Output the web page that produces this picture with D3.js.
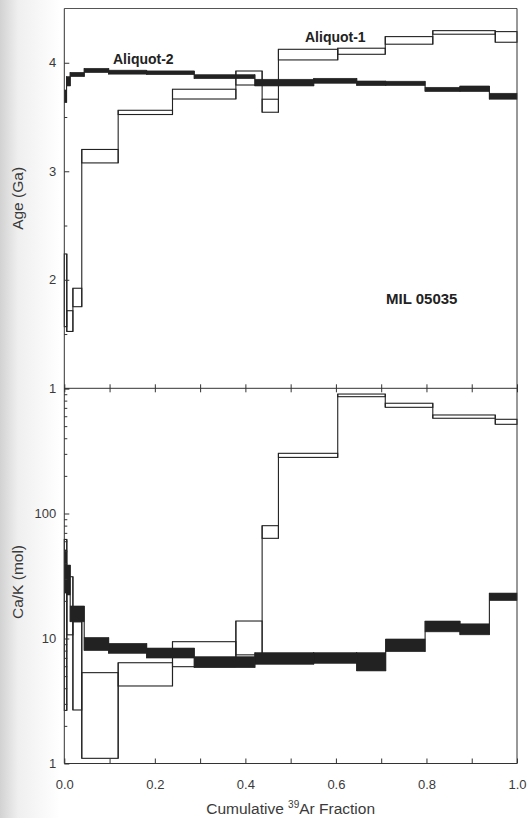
<!DOCTYPE html>
<html>
<head>
<meta charset="utf-8">
<script src="https://cdn.jsdelivr.net/npm/d3@7"></script>
<style>
  html, body { margin: 0; padding: 0; background: #fff; }
  svg { display: block; font-family: Arial, "Liberation Sans", Helvetica, sans-serif; }
</style>
</head>
<body>
<svg id="chart" width="527" height="818"></svg>
<script>
// Step boundaries (cumulative 39Ar fraction) and per-step values, MIL 05035
const a1Bounds = [0, 0.0055, 0.019, 0.0386, 0.119, 0.239, 0.379, 0.437, 0.473, 0.604, 0.709, 0.814, 0.952, 1.0];
const a1AgeLo  = [1.568, 1.524, 1.752, 3.077, 3.523, 3.666, 3.795, 3.544, 4.026, 4.078, 4.171, 4.263, 4.189];
const a1AgeHi  = [2.238, 1.715, 1.922, 3.201, 3.562, 3.756, 3.924, 3.664, 4.124, 4.134, 4.241, 4.296, 4.287];
const a1CaKLo  = [2.66, 10.7, 2.68, 1.10, 4.17, 5.95, 7.4, 63.3, 281, 860, 707, 578, 517];
const a1CaKHi  = [62, 31.2, 13.6, 5.33, 6.40, 9.43, 13.8, 79.9, 303, 903, 762, 614, 567];

const a2Bounds = [0, 0.005, 0.013, 0.044, 0.098, 0.182, 0.287, 0.421, 0.551, 0.646, 0.710, 0.797, 0.874, 0.939, 1.0];
const a2AgeLo  = [3.632, 3.786, 3.872, 3.909, 3.895, 3.890, 3.853, 3.786, 3.811, 3.789, 3.790, 3.734, 3.734, 3.664];
const a2AgeHi  = [3.749, 3.872, 3.912, 3.949, 3.932, 3.925, 3.890, 3.848, 3.857, 3.832, 3.830, 3.774, 3.786, 3.719];
const a2CaKLo  = [23.1, 22.3, 13.6, 8.0, 7.61, 6.98, 5.84, 6.22, 6.33, 5.50, 7.84, 11.3, 10.7, 20.1];
const a2CaKHi  = [51.1, 38.7, 18.2, 10.2, 9.15, 8.39, 7.15, 7.70, 7.70, 7.70, 9.91, 13.8, 13.1, 23.1];

const xTicks = d3.range(0, 11).map(i => i / 10);
const ageMajor = [1, 2, 3, 4];
const ageMinor = [1.5, 2.5, 3.5];
const cakMajor = [1, 10, 100, 1000];

const svg = d3.select("#chart");
const INK = "#222";

// paper shading along the left edge
const defs = svg.append("defs");
const grad = defs.append("linearGradient").attr("id", "edge").attr("x1", 0).attr("x2", 1).attr("y1", 0).attr("y2", 0);
grad.append("stop").attr("offset", "0").attr("stop-color", "#d2d2d2");
grad.append("stop").attr("offset", "0.3").attr("stop-color", "#efefef");
grad.append("stop").attr("offset", "1").attr("stop-color", "#ffffff");
svg.append("rect").attr("width", 527).attr("height", 818).attr("fill", "#fff");
svg.append("rect").attr("width", 60).attr("height", 818).attr("fill", "url(#edge)");

const x = d3.scaleLinear().domain([0, 1]).range([64.3, 517]);
const yAge = d3.scaleLinear().domain([1, 4.5]).range([388.3, 8.5]);
const yCaK = d3.scaleLog().domain([1, 1000]).range([763.5, 388.5]);

// draws one spectrum: boxes plus vertical risers joining neighbouring steps
function spectrum(g, bounds, lo, hi, y, filled) {
  const steps = lo.map((v, i) => ({ x0: bounds[i], x1: bounds[i + 1], lo: v, hi: hi[i] }));
  g.selectAll(null).data(steps).join("rect")
    .attr("x", d => x(d.x0))
    .attr("width", d => Math.max(0.8, x(d.x1) - x(d.x0)))
    .attr("y", d => y(d.hi))
    .attr("height", d => Math.max(0.8, y(d.lo) - y(d.hi)))
    .attr("fill", filled ? INK : "none")
    .attr("stroke", INK)
    .attr("stroke-width", filled ? 0.6 : 1.1);
  const risers = steps.slice(1).map((d, i) => {
    const p = steps[i];
    return { xv: d.x0, a: Math.min(p.lo, d.lo), b: Math.max(p.hi, d.hi) };
  });
  g.selectAll(null).data(risers).join("line")
    .attr("x1", d => x(d.xv)).attr("x2", d => x(d.xv))
    .attr("y1", d => y(d.a)).attr("y2", d => y(d.b))
    .attr("stroke", INK).attr("stroke-width", 1.1);
}

// ---------- upper panel: age spectrum ----------
const agePanel = svg.append("g");
spectrum(agePanel.append("g"), a1Bounds, a1AgeLo, a1AgeHi, yAge, false);
spectrum(agePanel.append("g"), a2Bounds, a2AgeLo, a2AgeHi, yAge, true);

// ---------- lower panel: Ca/K spectrum ----------
const cakPanel = svg.append("g");
spectrum(cakPanel.append("g"), a1Bounds, a1CaKLo, a1CaKHi, yCaK, false);
spectrum(cakPanel.append("g"), a2Bounds, a2CaKLo, a2CaKHi, yCaK, true);

// ---------- frame ----------
const frame = svg.append("g").attr("stroke", "#333").attr("stroke-width", 1).attr("fill", "none");
frame.append("line").attr("x1", x(0)).attr("x2", x(1)).attr("y1", yAge(4.5)).attr("y2", yAge(4.5)).attr("stroke", "#555");
frame.append("line").attr("x1", x(1)).attr("x2", x(1)).attr("y1", yAge(4.5)).attr("y2", yCaK(1));
frame.append("line").attr("x1", x(0)).attr("x2", x(0)).attr("y1", yAge(4.5)).attr("y2", yCaK(1));
frame.append("line").attr("x1", x(0)).attr("x2", x(1)).attr("y1", yAge(1)).attr("y2", yAge(1));

function styleAxis(g) {
  g.select(".domain").remove();
  g.selectAll(".tick line").attr("stroke", "#333");
  g.selectAll(".tick text").attr("fill", "#3a3a3a").attr("font-size", 13);
}

// shared middle axis: ticks crossing the line, no labels
svg.append("g").attr("transform", `translate(0,${yAge(1) - 4})`)
  .call(d3.axisBottom(x).tickValues(xTicks).tickSize(8).tickFormat(""))
  .call(styleAxis);

// bottom x axis
svg.append("g").attr("transform", `translate(0,${yCaK(1)})`)
  .call(d3.axisBottom(x).tickValues(xTicks).tickSize(-5).tickPadding(16)
    .tickFormat((d, i) => i % 2 === 0 ? d3.format(".1f")(d) : ""))
  .call(styleAxis);
svg.append("line").attr("x1", x(0)).attr("x2", x(1)).attr("y1", yCaK(1)).attr("y2", yCaK(1))
  .attr("stroke", "#333");

// age axis
svg.append("g").attr("transform", `translate(${x(0)},0)`)
  .call(d3.axisLeft(yAge).tickValues(ageMajor).tickSize(-5).tickPadding(8).tickFormat(d3.format("d")))
  .call(styleAxis);
svg.append("g").attr("transform", `translate(${x(0)},0)`)
  .call(d3.axisLeft(yAge).tickValues(ageMinor).tickSize(-3).tickFormat(""))
  .call(styleAxis);

// Ca/K axis (top label is shared with the age axis)
svg.append("g").attr("transform", `translate(${x(0)},0)`)
  .call(d3.axisLeft(yCaK).tickValues(cakMajor).tickSize(-5).tickPadding(8)
    .tickFormat(d => d === 1000 ? "" : d3.format("d")(d)))
  .call(styleAxis);
const cakMinor = [];
[1, 10, 100].forEach(dec => d3.range(2, 10).forEach(m => cakMinor.push(dec * m)));
svg.append("g").attr("transform", `translate(${x(0)},0)`)
  .call(d3.axisLeft(yCaK).tickValues(cakMinor).tickSize(-3).tickFormat(""))
  .call(styleAxis);

// axis titles
svg.append("text").attr("transform", `translate(23,${(yAge(1) + yAge(4.5)) / 2}) rotate(-90)`)
  .attr("text-anchor", "middle").attr("font-size", 15.5).attr("fill", "#3a3a3a").text("Age (Ga)");
svg.append("text").attr("transform", `translate(23,${(yCaK(1) + yCaK(1000)) / 2 + 6}) rotate(-90)`)
  .attr("text-anchor", "middle").attr("font-size", 15.5).attr("fill", "#3a3a3a").text("Ca/K (mol)");

const xt = svg.append("text").attr("x", (x(0) + x(1)) / 2).attr("y", 814)
  .attr("text-anchor", "middle").attr("font-size", 15.5).attr("fill", "#3a3a3a");
xt.append("tspan").text("Cumulative ");
xt.append("tspan").attr("font-size", 10).attr("dy", -6).text("39");
xt.append("tspan").attr("dy", 6).text("Ar Fraction");

// series and sample labels
svg.append("text").attr("x", 113).attr("y", 64).attr("font-size", 14).attr("font-weight", "bold")
  .attr("fill", "#222").text("Aliquot-2");
svg.append("text").attr("x", 305).attr("y", 42).attr("font-size", 14).attr("font-weight", "bold")
  .attr("fill", "#222").text("Aliquot-1");
svg.append("text").attr("x", 386).attr("y", 304).attr("font-size", 15).attr("font-weight", "bold")
  .attr("fill", "#222").text("MIL 05035");
</script>
</body>
</html>
